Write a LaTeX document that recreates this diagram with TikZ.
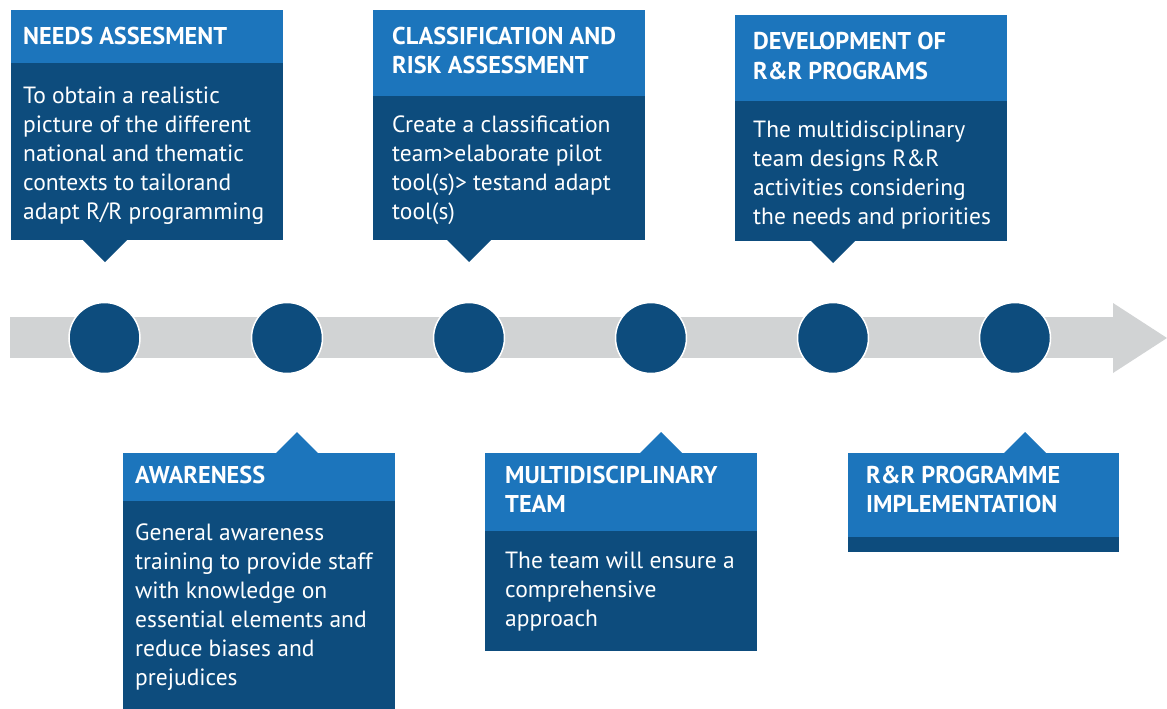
\documentclass[tikz,border=0pt]{standalone}
\usepackage{fontspec}
\setmainfont{PT Sans}
\definecolor{hdr}{RGB}{28,117,188}
\definecolor{bod}{RGB}{13,76,125}
\definecolor{bargrey}{RGB}{209,211,212}
\newcommand\mylines[1]{\parbox[t]{280pt}{\raggedright #1}}
\begin{document}
\begin{tikzpicture}[x=1pt,y=-1pt,
  hd/.style={anchor=base west,inner sep=0pt,text=white,font=\fontsize{24.3}{29}\selectfont\bfseries},
  bd/.style={anchor=base west,inner sep=0pt,text=white,font=\fontsize{23.5}{29}\selectfont},
  dot/.style={circle,fill=bod,draw=white,line width=1.5pt,minimum size=71pt,inner sep=0pt}]
\useasboundingbox (0,0) rectangle (1167,709);
% timeline bar
\fill[bargrey] (10,317) rectangle (1113,358);
\fill[bargrey] (1113,303) -- (1167,338) -- (1113,373) -- cycle;
% circles
\foreach \i/\x in {1/104.5,2/287,3/469,4/651,5/833,6/1015}
  \node[dot] (c\i) at (\x,338) {};
% --- top boxes ---
% box 1
\fill[bod] (11,63) rectangle (283,240);
\fill[bod] (83,240) -- (105,262) -- (127,240) -- cycle;
\fill[hdr] (11,10) rectangle (283,63);
\node[hd] (h1) at (23,45) {NEEDS ASSESMENT};
\node[bd] (t1) at (23,103) {\mylines{To obtain a realistic\\picture of the different\\national and thematic\\contexts to tailorand\\adapt R/R programming}};
% box 2
\fill[bod] (373,96) rectangle (645,240);
\fill[bod] (447,240) -- (469,262) -- (491,240) -- cycle;
\fill[hdr] (373,10) rectangle (645,96);
\node[hd] (h2) at (392,45) {\mylines{CLASSIFICATION AND\\RISK ASSESSMENT}};
\node[bd] (t2) at (392,132) {\mylines{Create a classification\\team>elaborate pilot\\tool(s)> testand adapt\\tool(s)}};
% box 3
\fill[bod] (735,101) rectangle (1007,241);
\fill[bod] (811,241) -- (833,263) -- (855,241) -- cycle;
\fill[hdr] (735,15) rectangle (1007,101);
\node[hd] (h3) at (753,50) {\mylines{DEVELOPMENT OF\\R\&R PROGRAMS}};
\node[bd] (t3) at (753,137) {\mylines{The multidisciplinary\\team designs R\&R\\activities considering\\the needs and priorities}};
% --- bottom boxes ---
% awareness
\fill[hdr] (276,453) -- (297,432) -- (318,453) -- cycle;
\fill[hdr] (123,453) rectangle (395,501);
\fill[bod] (123,501) rectangle (395,709);
\node[hd] (h4) at (135,483) {AWARENESS};
\node[bd] (t4) at (135,540) {\mylines{General awareness\\training to provide staff\\with knowledge on\\essential elements and\\reduce biases and\\prejudices}};
% multidisciplinary
\fill[hdr] (640,453) -- (661,432) -- (682,453) -- cycle;
\fill[hdr] (485,453) rectangle (757,531);
\fill[bod] (485,531) rectangle (757,651);
\node[hd] (h5) at (505,483) {\mylines{MULTIDISCIPLINARY\\TEAM}};
\node[bd] (t5) at (505,568) {\mylines{The team will ensure a\\comprehensive\\approach}};
% implementation
\fill[hdr] (1004,453) -- (1025,432) -- (1046,453) -- cycle;
\fill[hdr] (848,453) rectangle (1119,537);
\fill[bod] (848,537) rectangle (1119,552);
\node[hd] (h6) at (866,483) {\mylines{R\&R PROGRAMME\\IMPLEMENTATION}};
\end{tikzpicture}
\end{document}
